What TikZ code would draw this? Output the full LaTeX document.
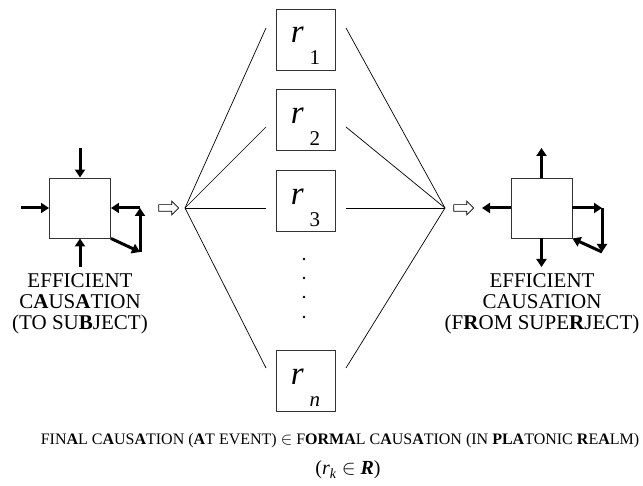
\documentclass[tikz,border=0pt]{standalone}
\usepackage{fontspec}
\setmainfont{Liberation Serif}
\usetikzlibrary{positioning, arrows.meta, calc, shapes.arrows}

\begin{document}
\begin{tikzpicture}[x=1pt,y=-1pt,
  cbox/.style={draw=black!80, line width=0.9pt, minimum width=61pt, minimum height=60pt, inner sep=0pt},
  rbx/.style={draw=black!80, line width=0.9pt, minimum width=59pt, minimum height=61pt, inner sep=0pt, text height=25pt, text depth=18pt, font=\fontsize{33}{33}\selectfont\itshape},
  thk/.style={line width=3pt, -{Triangle[length=8pt,width=10pt]}},
  fan/.style={line width=0.7pt},
  hol/.style={single arrow, draw, line width=0.7pt, minimum height=20pt, inner xsep=0pt, inner ysep=3pt, text height=0pt, text depth=0pt, single arrow head extend=3.5pt},
  lbl/.style={align=center, inner sep=0pt, anchor=north, font=\fontsize{21}{21}\selectfont}]
\useasboundingbox (0,0) rectangle (643,486);
\newcommand{\rsub}[1]{r\hspace{6pt}\raisebox{-22pt}{\fontsize{21}{21}\selectfont #1}}
\node[rbx] (r1) at (305.5,39.5) {\rsub{\upshape 1}};
\node[rbx, below=19pt of r1] (r2) {\rsub{\upshape 2}};
\node[rbx, below=19pt of r2] (r3) {\rsub{\upshape 3}};
\node[rbx] (rn) at (305.5,381) {\rsub{n}};
\foreach \y in {259,278,297,317} \fill (304,\y) circle (1.3pt);
\coordinate (fanL) at (185,208); \coordinate (fanR) at (445,208);
\coordinate (a1) at (266,28); \coordinate (a2) at (266,127); \coordinate (a3) at (266,208); \coordinate (an) at (266,368);
\coordinate (b1) at (346,28); \coordinate (b2) at (346,127); \coordinate (b3) at (346,208); \coordinate (bn) at (346,368);
\foreach \k in {1,2,3,n} {\draw[fan] (fanL) -- (a\k); \draw[fan] (b\k) -- (fanR);}
\node[hol] (hl) at (167,208) {}; \node[hol] (hr) at (462,208) {};
\node[cbox] (lbox) at (80,208) {};
\node[cbox] (rbox) at (541.5,208) {};
\coordinate (lt) at (80,148); \coordinate (lw) at (21,208); \coordinate (lb) at (80,267);
\coordinate (la) at (140,252); \coordinate (lc) at (140,208);
\draw[thk] (lt) -- (lbox.north); \draw[thk] (lw) -- (lbox.west); \draw[thk] (lb) -- (lbox.south);
\draw[thk] (lbox.south east) -- (la); \draw[thk] (la) -- (lc); \draw[thk] (lc) -- (lbox.east);
\coordinate (rt) at (541.5,148); \coordinate (rw) at (482,208); \coordinate (rb) at (541.5,267);
\coordinate (ra) at (602,208); \coordinate (rc) at (602,252);
\draw[thk] (rbox.north) -- (rt); \draw[thk] (rbox.west) -- (rw); \draw[thk] (rbox.south) -- (rb);
\draw[thk] (rbox.east) -- (ra); \draw[thk] (ra) -- (rc); \draw[thk] (rc) -- (rbox.south east);
\node[lbl] (lcap) at (80,273) {EFFICIENT\\C\textbf{A}US\textbf{A}TION\\(TO SU\textbf{B}JECT)};
\node[lbl] (rcap) at (542,273) {EFFICIENT\\CAUSATION\\(F\textbf{R}OM SUPE\textbf{R}JECT)};
\node[anchor=base, inner sep=0pt, font=\fontsize{16}{16}\selectfont] (fin) at (340,445) {FIN\textbf{A}L C\textbf{A}US\textbf{A}TION (\textbf{A}T EVENT) $\in$ F\textbf{ORMA}L C\textbf{A}US\textbf{A}TION (IN \textbf{PLA}TONIC \textbf{R}E\textbf{A}LM)};
\node[anchor=base, inner sep=0pt, font=\fontsize{20}{20}\selectfont] (rk) at (348,475) {(\textit{r}\textsubscript{\textit{k}} $\in$ \textbf{\textit{R}})};
\end{tikzpicture}
\end{document}
